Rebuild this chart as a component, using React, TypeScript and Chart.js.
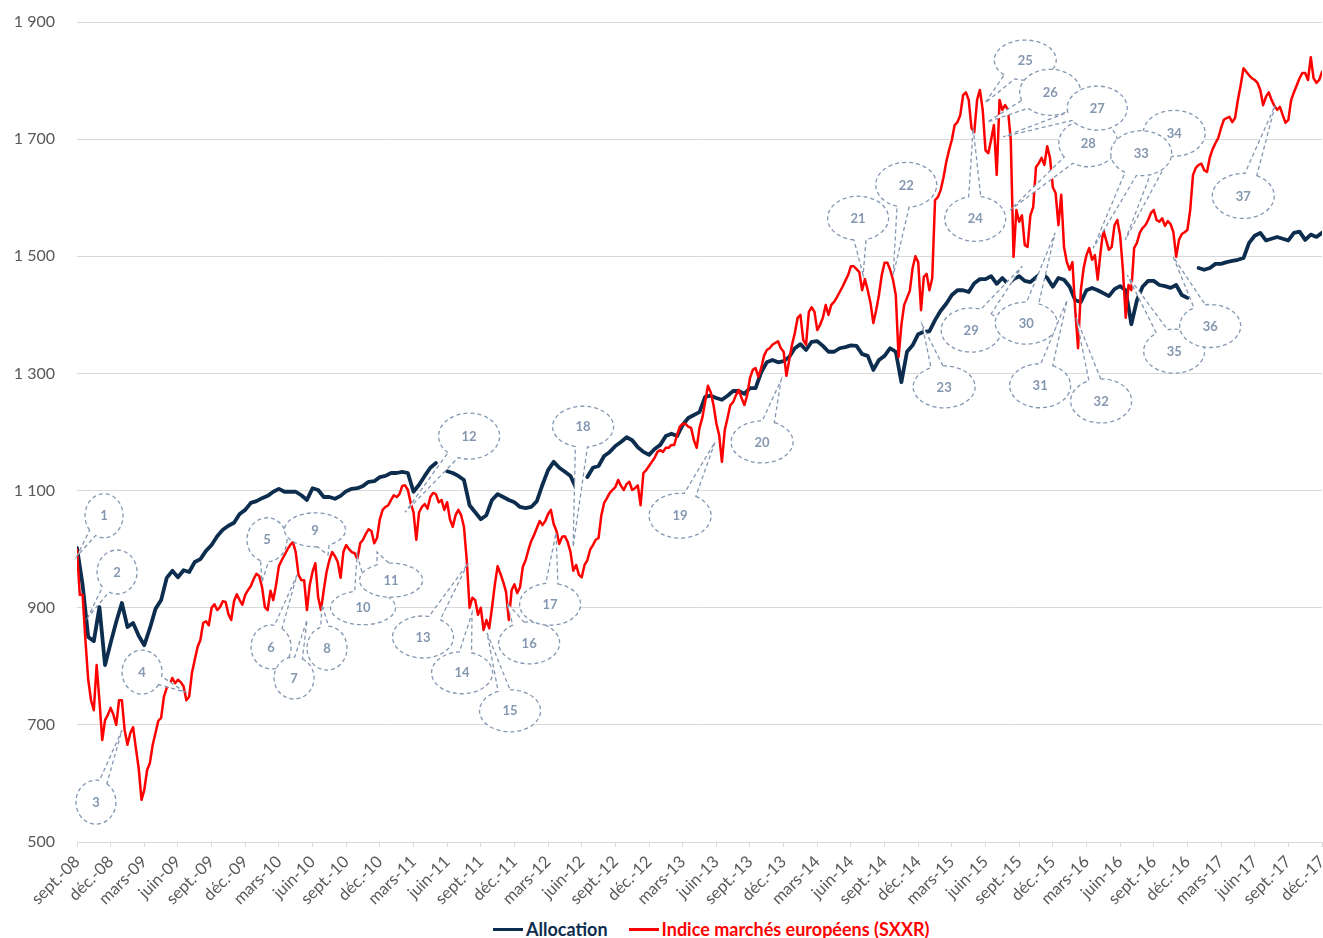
import React, { useEffect, useRef } from "react";
import { Chart, registerables } from "chart.js";

Chart.register(...registerables);

// Allocation: one point every half month; SXXR: one point every quarter month; both start at sept.-08 (month 0)
const ALLOCATION_STEP_MONTHS = 0.5;
const SXXR_STEP_MONTHS = 0.25;
const MONTHS_PER_QUARTER = 3;

const quarterLabels = [
  "sept.-08", "déc.-08", "mars-09", "juin-09", "sept.-09", "déc.-09", "mars-10", "juin-10",
  "sept.-10", "déc.-10", "mars-11", "juin-11", "sept.-11", "déc.-11", "mars-12", "juin-12",
  "sept.-12", "déc.-12", "mars-13", "juin-13", "sept.-13", "déc.-13", "mars-14", "juin-14",
  "sept.-14", "déc.-14", "mars-15", "juin-15", "sept.-15", "déc.-15", "mars-16", "juin-16",
  "sept.-16", "déc.-16", "mars-17", "juin-17", "sept.-17", "déc.-17",
];

const yTickValues = [500, 700, 900, 1100, 1300, 1500, 1700, 1900];

const allocation: (number | null)[] = [
  1002, 939, 850, 843, 901, 802, 840, 876, 908, 867,
  874, 852, 836, 865, 898, 913, 951, 963, 952, 964,
  961, 978, 983, 997, 1007, 1022, 1033, 1040, 1045, 1060,
  1067, 1079, 1082, 1087, 1091, 1098, 1103, 1098, 1098, 1098,
  1092, 1084, 1104, 1101, 1089, 1089, 1086, 1091, 1099, 1103,
  1104, 1108, 1115, 1116, 1123, 1125, 1130, 1130, 1132, 1130,
  1098, 1110, 1125, 1139, 1147, null, 1133, 1130, 1125, 1118,
  1075, 1063, 1051, 1058, 1084, 1094, 1089, 1084, 1080, 1072,
  1070, 1072, 1082, 1110, 1135, 1149, 1139, 1132, 1125, 1104,
  null, 1123, 1139, 1142, 1159, 1166, 1176, 1183, 1191, 1186,
  1174, 1166, 1161, 1171, 1178, 1193, 1197, 1193, 1212, 1224,
  1229, 1234, 1260, 1262, 1258, 1255, 1262, 1270, 1270, 1265,
  1275, 1275, 1302, 1319, 1323, 1319, 1321, 1328, 1343, 1350,
  1340, 1354, 1355, 1347, 1337, 1337, 1343, 1345, 1348, 1347,
  1333, 1330, 1306, 1323, 1330, 1343, 1337, 1285, 1337, 1348,
  1367, 1371, 1372, 1391, 1407, 1419, 1434, 1442, 1442, 1439,
  1454, 1461, 1461, 1466, 1453, 1463, 1453, 1461, 1466, 1458,
  1456, 1464, 1471, 1463, 1448, 1463, 1460, 1448, 1425, 1422,
  1442, 1446, 1442, 1437, 1432, 1444, 1449, 1442, 1384, 1425,
  1448, 1458, 1458, 1451, 1449, 1446, 1451, 1434, 1429, null,
  1480, 1477, 1480, 1487, 1487, 1490, 1492, 1494, 1497, 1523,
  1535, 1540, 1527, 1530, 1533, 1530, 1527, 1540, 1542, 1528,
  1537, 1533, 1540,
];

const sxxr: number[] = [
  999, 922, 922, 845, 777, 742, 725, 802, 742, 674,
  708, 717, 729, 717, 700, 742, 742, 691, 666, 686,
  696, 660, 626, 572, 589, 623, 635, 666, 686, 707,
  712, 748, 763, 768, 780, 771, 777, 773, 766, 742,
  748, 789, 811, 833, 845, 874, 877, 870, 900, 906,
  896, 901, 911, 910, 889, 879, 911, 923, 913, 905,
  922, 930, 937, 949, 958, 954, 935, 901, 896, 929,
  913, 939, 971, 981, 990, 999, 1007, 1012, 995, 956,
  947, 947, 896, 939, 961, 976, 918, 896, 930, 961,
  981, 995, 988, 978, 951, 995, 1007, 1000, 995, 993,
  983, 1010, 1016, 1026, 1034, 1031, 1010, 1019, 1051, 1067,
  1072, 1075, 1084, 1092, 1089, 1094, 1108, 1109, 1101, 1079,
  1063, 1016, 1063, 1072, 1077, 1069, 1089, 1096, 1094, 1080,
  1084, 1067, 1080, 1051, 1038, 1058, 1067, 1058, 1038, 981,
  900, 917, 913, 888, 900, 862, 879, 865, 900, 939,
  971, 958, 944, 927, 879, 930, 940, 925, 935, 970,
  981, 999, 1014, 1024, 1036, 1048, 1041, 1048, 1060, 1067,
  1043, 1031, 1009, 1021, 1022, 1012, 995, 963, 973, 956,
  952, 973, 981, 999, 1007, 1016, 1019, 1058, 1079, 1087,
  1096, 1101, 1106, 1118, 1108, 1101, 1111, 1115, 1101, 1104,
  1109, 1075, 1130, 1135, 1142, 1149, 1156, 1166, 1169, 1166,
  1173, 1173, 1178, 1178, 1195, 1209, 1214, 1214, 1209, 1207,
  1186, 1173, 1207, 1224, 1251, 1279, 1268, 1246, 1215, 1195,
  1149, 1203, 1224, 1246, 1251, 1263, 1272, 1258, 1246, 1263,
  1292, 1306, 1309, 1294, 1309, 1330, 1340, 1343, 1349, 1352,
  1355, 1343, 1337, 1296, 1323, 1349, 1369, 1395, 1400, 1357,
  1349, 1405, 1413, 1405, 1374, 1383, 1395, 1417, 1400, 1417,
  1422, 1430, 1439, 1448, 1458, 1468, 1483, 1483, 1478, 1473,
  1442, 1461, 1442, 1420, 1386, 1408, 1434, 1468, 1489, 1489,
  1477, 1460, 1434, 1328, 1383, 1417, 1429, 1441, 1480, 1500,
  1490, 1408, 1465, 1470, 1442, 1463, 1596, 1601, 1613, 1634,
  1661, 1681, 1699, 1724, 1729, 1741, 1775, 1780, 1767, 1719,
  1712, 1767, 1784, 1750, 1681, 1676, 1699, 1724, 1639, 1767,
  1750, 1758, 1750, 1699, 1499, 1579, 1559, 1570, 1519, 1516,
  1570, 1584, 1652, 1659, 1668, 1656, 1688, 1668, 1618, 1608,
  1553, 1605, 1516, 1490, 1477, 1490, 1408, 1343, 1442, 1480,
  1502, 1514, 1494, 1502, 1460, 1506, 1545, 1528, 1511, 1516,
  1553, 1562, 1536, 1477, 1395, 1451, 1442, 1514, 1523, 1540,
  1548, 1553, 1562, 1574, 1579, 1562, 1559, 1565, 1552, 1560,
  1555, 1541, 1499, 1528, 1538, 1541, 1545, 1579, 1639, 1651,
  1656, 1658, 1647, 1644, 1669, 1683, 1693, 1702, 1719, 1733,
  1736, 1738, 1729, 1736, 1767, 1792, 1821, 1815, 1809, 1804,
  1801, 1796, 1784, 1758, 1772, 1780, 1767, 1757, 1750, 1755,
  1741, 1728, 1733, 1767, 1780, 1792, 1804, 1813, 1813, 1801,
  1840, 1804, 1796, 1801, 1815,
];

// callout annotations: label centre and pointer tip, in data units (months since sept.-08, index value)
const calloutNumbers = [
  1, 2, 3, 4, 5, 6, 7, 8, 9, 10, 11, 12, 13, 14, 15, 16, 17, 18, 19,
  20, 21, 22, 23, 24, 25, 26, 27, 28, 29, 30, 31, 32, 33, 34, 35, 36, 37,
];
const calloutMonth = [
  2.41, 3.57, 1.69, 5.8, 16.94, 17.3, 19.35, 22.29, 21.22, 25.5, 28.0, 34.96, 30.85, 34.33, 38.61, 40.31, 42.18, 45.12, 53.77,
  61.08, 69.64, 73.93, 77.31, 80.08, 84.54, 86.77, 90.96, 90.16, 79.72, 84.63, 85.87, 91.31, 94.88, 97.82, 97.82, 101.03, 103.98,
];
const calloutValue = [
  1057, 961, 568, 790, 1016, 833, 780, 831, 1033, 900, 947, 1193, 850, 789, 724, 840, 906, 1209, 1057,
  1183, 1565, 1622, 1277, 1564, 1835, 1780, 1753, 1693, 1374, 1386, 1279, 1253, 1676, 1710, 1338, 1381, 1603,
];
const calloutTipMonth = [
  0, 0.98, 4.01, 9.63, 16.5, 19.62, 20.51, 21.85, 22.38, 24.97, 26.75, 29.25, 34.87, 35.22, 36.56, 38.34, 42.71, 44.23, 56.89,
  62.78, 70.09, 72.77, 75.35, 79.9, 80.97, 81.15, 82.58, 83.2, 84.27, 87.21, 88.28, 89.08, 90.6, 93.46, 93.63, 97.73, 106.83,
];
const calloutTipValue = [
  988, 884, 691, 756, 944, 956, 879, 905, 990, 990, 995, 1063, 976, 891, 857, 908, 1028, 1004, 1183,
  1289, 1468, 1468, 1383, 1719, 1762, 1729, 1704, 1579, 1483, 1540, 1425, 1395, 1514, 1528, 1468, 1499, 1758,
];
const calloutWidth = [
  38, 40, 40, 40, 40, 40, 40, 40, 61, 65, 63, 61, 61, 61, 61, 61, 61, 61, 62,
  62, 61, 61, 62, 61, 62, 61, 60, 59, 60, 62, 61, 61, 61, 62, 61, 61, 62,
];
const calloutHeight = [
  44, 44, 44, 44, 44, 44, 42, 44, 34, 34, 34, 46, 42, 42, 42, 42, 42, 41, 45,
  42, 44, 45, 42, 45, 40, 46, 44, 47, 44, 42, 44, 44, 45, 46, 44, 43, 45,
];
const calloutDrawOrder = [
  1, 2, 3, 4, 5, 6, 7, 8, 9, 10, 11, 12, 13, 14, 15, 16, 17, 18, 19, 20, 21, 22, 23, 24, 25, 26,
  28, 27, 29, 30, 31, 32, 34, 33, 35, 36, 37,
];

const NAVY = "#0C2D4E";
const RED = "#FF0000";
const CALLOUT = "#8497B0";
const AXIS_TEXT = "#595959";
const GRID = "#D9D9D9";
const FONT = "Lato, 'Open Sans', 'DejaVu Sans', sans-serif";

function formatThousands(v: number): string {
  const s = String(Math.round(v));
  return s.length > 3 ? s.slice(0, -3) + "\u00a0" + s.slice(-3) : s;
}

const calloutPlugin = {
  id: "callouts",
  afterDatasetsDraw(chart: any) {
    const { ctx } = chart;
    const xs = chart.scales.x;
    const ys = chart.scales.y;
    ctx.save();
    for (const n of calloutDrawOrder) {
      const k = calloutNumbers.indexOf(n);
      const cx = xs.getPixelForValue(calloutMonth[k]);
      const cy = ys.getPixelForValue(calloutValue[k]);
      const tx = xs.getPixelForValue(calloutTipMonth[k]);
      const ty = ys.getPixelForValue(calloutTipValue[k]);
      const rx = calloutWidth[k] / 2;
      const ry = calloutHeight[k] / 2;
      const t = Math.atan2((ty - cy) / ry, (tx - cx) / rx);
      const d = 0.2;
      ctx.beginPath();
      ctx.ellipse(cx, cy, rx, ry, 0, t + d, t - d + Math.PI * 2);
      ctx.lineTo(tx, ty);
      ctx.closePath();
      ctx.fillStyle = "#FFFFFF";
      ctx.fill();
      ctx.setLineDash([4, 3]);
      ctx.lineWidth = 1.3;
      ctx.strokeStyle = CALLOUT;
      ctx.stroke();
      ctx.setLineDash([]);
      ctx.fillStyle = CALLOUT;
      ctx.font = `bold 13px ${FONT}`;
      ctx.textAlign = "center";
      ctx.textBaseline = "middle";
      ctx.fillText(String(n), cx, cy + 0.5);
    }
    ctx.restore();
  },
};

export default function App() {
  const canvasRef = useRef<HTMLCanvasElement | null>(null);

  useEffect(() => {
    document.body.style.margin = "0";
    document.body.style.overflow = "hidden";
    const canvas = canvasRef.current;
    if (!canvas) return;
    const chart = new Chart(canvas, {
      type: "line",
      data: {
        datasets: [
          {
            label: "Allocation",
            data: allocation.map((v, i) => ({ x: i * ALLOCATION_STEP_MONTHS, y: v })),
            borderColor: NAVY,
            backgroundColor: NAVY,
            borderWidth: 3.8,
            pointRadius: 0,
            tension: 0,
            spanGaps: false,
            order: 1,
          },
          {
            label: "Indice marchés européens (SXXR)",
            data: sxxr.map((v, i) => ({ x: i * SXXR_STEP_MONTHS, y: v })),
            borderColor: RED,
            backgroundColor: RED,
            borderWidth: 2.5,
            pointRadius: 0,
            tension: 0,
            order: 0,
          },
        ] as any,
      },
      options: {
        animation: false,
        responsive: false,
        devicePixelRatio: 1,
        layout: { padding: { top: 22, right: 1, left: 0, bottom: 0 } },
        elements: { line: { borderJoinStyle: "round", borderCapStyle: "round" } },
        plugins: { legend: { display: false }, tooltip: { enabled: false } },
        scales: {
          x: {
            type: "linear",
            min: 0,
            max: (quarterLabels.length - 1) * MONTHS_PER_QUARTER,
            afterBuildTicks: (s: any) => {
              s.ticks = quarterLabels.map((_, k) => ({ value: k * MONTHS_PER_QUARTER }));
            },
            afterFit: (s: any) => {
              s.height = 73;
              s.paddingLeft = 0;
              s.paddingRight = 0;
            },
            ticks: {
              autoSkip: false,
              minRotation: 45,
              maxRotation: 45,
              padding: 5,
              color: AXIS_TEXT,
              font: { family: FONT, size: 16.5 },
              callback: (v: any) => quarterLabels[Math.round(Number(v) / MONTHS_PER_QUARTER)] ?? "",
            },
            grid: { drawOnChartArea: false, drawTicks: true, tickLength: 5, color: GRID },
            border: { display: true, color: GRID },
          },
          y: {
            type: "linear",
            min: yTickValues[0],
            max: yTickValues[yTickValues.length - 1],
            afterBuildTicks: (s: any) => {
              s.ticks = yTickValues.map((v) => ({ value: v }));
            },
            afterFit: (s: any) => {
              s.width = 77;
              s.paddingTop = 0;
              s.paddingBottom = 0;
            },
            ticks: {
              padding: 22,
              color: AXIS_TEXT,
              font: { family: FONT, size: 16 },
              callback: (v: any) => formatThousands(Number(v)),
            },
            grid: { color: GRID, drawTicks: false, lineWidth: 1 },
            border: { display: false },
          },
        },
      } as any,
      plugins: [calloutPlugin],
    });
    return () => chart.destroy();
  }, []);

  const legendText: React.CSSProperties = {
    fontFamily: FONT,
    fontWeight: 700,
    fontSize: 18,
    lineHeight: "20px",
    whiteSpace: "nowrap",
  };

  return (
    <div
      style={{
        position: "absolute",
        left: 0,
        top: 0,
        width: 1323,
        height: 938,
        background: "#FFFFFF",
        overflow: "hidden",
      }}
    >
      <canvas ref={canvasRef} width={1323} height={915} style={{ display: "block" }} />
      <div
        style={{
          position: "absolute",
          left: 493,
          top: 919,
          display: "flex",
          alignItems: "center",
        }}
      >
        <span style={{ display: "inline-block", width: 30, height: 3, background: NAVY }} />
        <span style={{ ...legendText, color: NAVY, marginLeft: 3 }}>Allocation</span>
        <span style={{ display: "inline-block", width: 30, height: 3, background: RED, marginLeft: 21 }} />
        <span style={{ ...legendText, color: RED, marginLeft: 3 }}>Indice marchés européens (SXXR)</span>
      </div>
    </div>
  );
}
